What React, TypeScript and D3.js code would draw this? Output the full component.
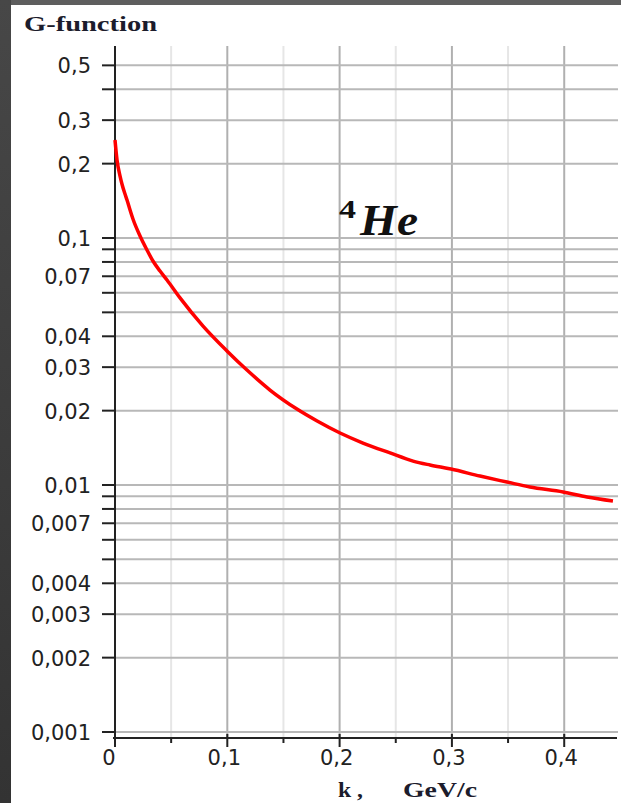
import React from "react";
import * as d3 from "d3";

const kValues = [0, 0.0018, 0.0045, 0.0062, 0.0089, 0.0107, 0.0134, 0.016, 0.0223, 0.0285, 0.0338, 0.0401, 0.0463, 0.0579, 0.0784, 0.0997, 0.1175, 0.138, 0.162, 0.18, 0.2004, 0.2208, 0.2449, 0.2654, 0.2805, 0.2992, 0.325, 0.349, 0.3695, 0.399, 0.4203, 0.4434];
const gValues = [0.2493, 0.2069, 0.1782, 0.1655, 0.1507, 0.1425, 0.1299, 0.1194, 0.1019, 0.0894, 0.0807, 0.0735, 0.0676, 0.0572, 0.044, 0.0349, 0.0292, 0.02424, 0.0203, 0.01816, 0.01624, 0.01479, 0.01348, 0.0125, 0.01205, 0.0116, 0.01087, 0.01028, 0.00981, 0.00937, 0.00894, 0.00861];

const yLabeledTicks = [0.5, 0.3, 0.2, 0.1, 0.07, 0.04, 0.03, 0.02, 0.01, 0.007, 0.004, 0.003, 0.002, 0.001];
const yMinorTicks = [0.4, 0.09, 0.08, 0.06, 0.05, 0.009, 0.008, 0.006, 0.005];
const xMajorTicks = [0, 0.1, 0.2, 0.3, 0.4];
const xMinorTicks = [0.05, 0.15, 0.25, 0.35];

const fmt = (v: number) => String(v).replace(".", ",");

export default function App() {
  const W = 621, H = 803;
  const x = d3.scaleLinear().domain([0, 0.447]).range([115, 617]);
  const y = d3.scaleLog().domain([0.001, 0.6]).range([732, 45.8]);
  const axisY = 738;
  const axisX = 115;
  const data = kValues.map((k, i) => [k, gValues[i]] as [number, number]);
  const line = d3.line<[number, number]>().x(d => x(d[0])).y(d => y(d[1])).curve(d3.curveMonotoneX);
  const tickFont = "'DejaVu Sans', Verdana, sans-serif";
  const serif = "'Liberation Serif', 'Times New Roman', serif";

  return (
    <svg width={W} height={H} style={{ position: "absolute", left: 0, top: 0, background: "#fff" }}>
      <rect x={0} y={0} width={W} height={H} fill="#ffffff" />
      <defs>
        <linearGradient id="lg" x1="0" y1="0" x2="0" y2="1">
          <stop offset="0" stopColor="#474747" />
          <stop offset="1" stopColor="#333333" />
        </linearGradient>
      </defs>
      <rect x={0} y={0} width={W} height={5} fill="#5e5e5e" />
      <rect x={0} y={0} width={11} height={H} fill="url(#lg)" />

      {/* title */}
      <text x={24} y={31} fontFamily={serif} fontWeight="bold" fontSize={22} fill="#1c1c2c" textLength={133} lengthAdjust="spacingAndGlyphs">G-function</text>

      {/* vertical grid */}
      {xMinorTicks.map(t => (
        <line key={"vm" + t} x1={x(t)} x2={x(t)} y1={46} y2={axisY} stroke="#e6e6e6" strokeWidth={2} />
      ))}
      {xMajorTicks.filter(t => t > 0).map(t => (
        <line key={"vM" + t} x1={x(t)} x2={x(t)} y1={46} y2={axisY} stroke="#b0b0b0" strokeWidth={2} />
      ))}
      {/* horizontal grid */}
      {[...yLabeledTicks, ...yMinorTicks].map(t => (
        <line key={"h" + t} x1={axisX} x2={618} y1={y(t)} y2={y(t)} stroke="#b8b8b8" strokeWidth={2} />
      ))}

      {/* y ticks */}
      {[...yLabeledTicks, ...yMinorTicks].map(t => (
        <line key={"yt" + t} x1={102} x2={axisX} y1={y(t)} y2={y(t)} stroke="#222" strokeWidth={2} />
      ))}
      {yLabeledTicks.map(t => (
        <text key={"yl" + t} x={91} y={y(t) + 1} textAnchor="end" dominantBaseline="central" fontFamily={tickFont} fontSize={21} fill="#222">{fmt(t)}</text>
      ))}

      {/* x ticks */}
      {xMajorTicks.map(t => (
        <line key={"xt" + t} x1={x(t)} x2={x(t)} y1={734} y2={747} stroke="#222" strokeWidth={2} />
      ))}
      {xMinorTicks.map(t => (
        <line key={"xmt" + t} x1={x(t)} x2={x(t)} y1={737} y2={743} stroke="#222" strokeWidth={2} />
      ))}
      {xMajorTicks.map(t => (
        <text key={"xl" + t} x={x(t) - (t === 0 ? 6 : 3)} y={765} textAnchor="middle" fontFamily={tickFont} fontSize={21} fill="#222">{fmt(t)}</text>
      ))}

      {/* axes */}
      <line x1={axisX} x2={axisX} y1={46} y2={745} stroke="#222" strokeWidth={2} />
      <line x1={113} x2={617} y1={axisY} y2={axisY} stroke="#222" strokeWidth={2} />

      {/* curve */}
      <path d={line(data) || ""} fill="none" stroke="#ff0000" strokeWidth={3.5} strokeLinejoin="round" strokeLinecap="butt" />

      {/* annotation */}
      <text x={339} y={218} fontFamily={serif} fontWeight="bold" fontSize={25} fill="#111" textLength={17} lengthAdjust="spacingAndGlyphs">4</text>
      <text x={360} y={235} fontFamily={serif} fontWeight="bold" fontStyle="italic" fontSize={44} fill="#111" textLength={58} lengthAdjust="spacingAndGlyphs">He</text>

      {/* x label */}
      <text x={338} y={797} fontFamily={serif} fontWeight="bold" fontSize={22} fill="#1c1c2c" textLength={25} lengthAdjust="spacingAndGlyphs">k ,</text>
      <text x={403} y={797} fontFamily={serif} fontWeight="bold" fontSize={22} fill="#1c1c2c" textLength={74} lengthAdjust="spacingAndGlyphs">GeV/c</text>
    </svg>
  );
}
